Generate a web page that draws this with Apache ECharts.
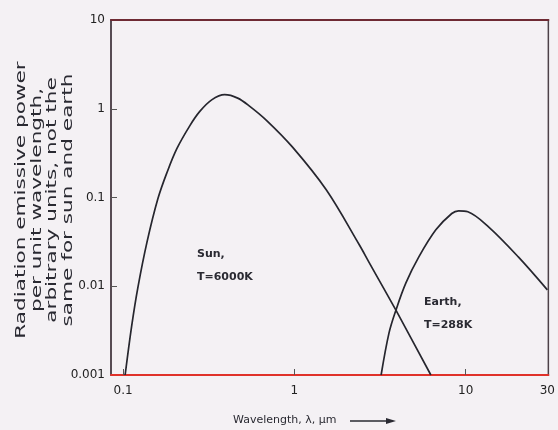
<!DOCTYPE html>
<html><head><meta charset="utf-8">
<script src="https://cdn.jsdelivr.net/npm/echarts@6/dist/echarts.min.js"></script>
<style>html,body{margin:0;padding:0;background:#f4f1f4}#c{width:558px;height:430px}</style>
</head><body><div id="c"></div>
<script>
// Sun (T = 6000 K) curve
const sunWavelength = [0.1028, 0.1122, 0.1222, 0.138, 0.1596, 0.1803, 0.206, 0.2455, 0.2805, 0.329, 0.392, 0.4667, 0.547, 0.687, 0.973, 1.535, 2.388, 2.729, 3.917, 6.266];
const sunPower      = [0.001, 0.00355, 0.00984, 0.0316, 0.0966, 0.1905, 0.355, 0.646, 0.933, 1.259, 1.44, 1.318, 1.072, 0.741, 0.3715, 0.122, 0.0295, 0.0186, 0.00537, 0.001];
// Earth (T = 288 K) curve
const earthWavelength = [3.21, 3.57, 3.92, 4.48, 5.33, 6.70, 8.30, 9.1, 10.3, 13.6, 20.3, 30];
const earthPower      = [0.001, 0.00298, 0.0054, 0.0109, 0.0214, 0.0432, 0.066, 0.0708, 0.069, 0.0467, 0.0214, 0.0091];
// Axis tick labels
const xTickLabels = [0.1, 1, 10, 30];
const xTickMarks = [0.1, 1, 10];
const yTickLabels = [0.001, 0.01, 0.1, 1, 10];
const yTickMarks = [0.01, 0.1, 1];
const yTitleLines = ['Radiation emissive power', 'per unit wavelength,', 'arbitrary units, not the', 'same for sun and earth'];
const xTitle = 'Wavelength, \u03bb, \u00b5m';

const pair = (xs, ys) => xs.map((x, i) => [x, ys[i]]);
const ink = '#26262e';
const chart = echarts.init(document.getElementById('c'), null, {renderer: 'canvas'});
chart.setOption({
  backgroundColor: '#f4f1f4',
  animation: false,
  grid: {left: 111, right: 8, top: 20, bottom: 55, show: true, borderColor: '#4d4148', borderWidth: 1.5, backgroundColor: 'transparent'},
  xAxis: [{
    type: 'log', min: 0.085, max: 30.4, logBase: 10,
    axisLine: {show: true, lineStyle: {color: '#e0322a', width: 2}},
    axisTick: {show: true, inside: true, length: 6, customValues: xTickMarks, lineStyle: {color: '#555'}},
    axisLabel: {customValues: xTickLabels, margin: 10, color: '#222', fontFamily: 'DejaVu Sans', fontSize: 12, formatter: v => String(v)},
    splitLine: {show: false}
  }, {
    type: 'log', min: 0.085, max: 30.4, position: 'top',
    axisLine: {show: true, lineStyle: {color: '#6e2a33', width: 2}},
    axisTick: {show: false}, axisLabel: {show: false}, splitLine: {show: false}
  }],
  yAxis: {
    type: 'log', min: 0.001, max: 10, logBase: 10,
    axisLine: {show: true, lineStyle: {color: '#4d4148', width: 1.5}},
    axisTick: {show: true, inside: true, length: 6, customValues: yTickMarks, lineStyle: {color: '#555'}},
    axisLabel: {customValues: yTickLabels, margin: 6, color: '#222', fontFamily: 'DejaVu Sans', fontSize: 12, formatter: v => String(v)},
    splitLine: {show: false}
  },
  series: [
    {type: 'line', name: 'Sun', data: pair(sunWavelength, sunPower), smooth: 0.35, showSymbol: false, lineStyle: {color: ink, width: 1.7}},
    {type: 'line', name: 'Earth', data: pair(earthWavelength, earthPower), smooth: 0.35, showSymbol: false, lineStyle: {color: ink, width: 1.7}}
  ],
  graphic: [
    {type: 'text', x: 45, y: 200, rotation: Math.PI / 2, scaleX: 1.6, scaleY: 1,
     style: {text: yTitleLines.join('\n'), align: 'center', verticalAlign: 'middle', lineHeight: 15.4,
             font: '13.5px "DejaVu Sans"', fill: '#2a2a32'}},
    {type: 'text', x: 233, y: 420, style: {text: xTitle, verticalAlign: 'middle', font: '11px "DejaVu Sans"', fill: '#2a2a32'}},
    {type: 'line', shape: {x1: 350, y1: 421, x2: 388, y2: 421}, style: {stroke: '#2a2a32', lineWidth: 1.5}},
    {type: 'polygon', shape: {points: [[386, 418], [396, 421], [386, 424]]}, style: {fill: '#2a2a32'}},
    {type: 'text', x: 197, y: 254, style: {text: 'Sun,', verticalAlign: 'middle', font: 'bold 11px "DejaVu Sans"', fill: '#2a2a32'}},
    {type: 'text', x: 197, y: 277, style: {text: 'T=6000K', verticalAlign: 'middle', font: 'bold 11px "DejaVu Sans"', fill: '#2a2a32'}},
    {type: 'text', x: 424, y: 302, style: {text: 'Earth,', verticalAlign: 'middle', font: 'bold 11px "DejaVu Sans"', fill: '#2a2a32'}},
    {type: 'text', x: 424, y: 325, style: {text: 'T=288K', verticalAlign: 'middle', font: 'bold 11px "DejaVu Sans"', fill: '#2a2a32'}}
  ]
});
</script></body></html>
